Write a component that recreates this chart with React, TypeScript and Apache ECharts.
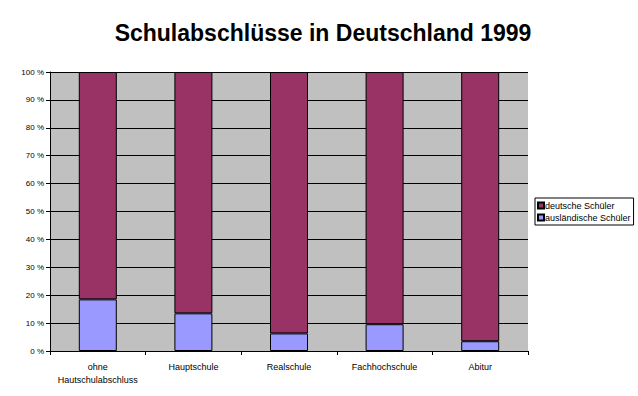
import React, { useEffect, useRef } from "react";
import * as echarts from "echarts";

const categories = ["ohne\nHautschulabschluss", "Hauptschule", "Realschule", "Fachhochschule", "Abitur"];
const auslaendisch = [18.5, 13.5, 6.3, 9.6, 3.5];
const deutsch = [81.5, 86.5, 93.7, 90.4, 96.5];
const seriesNames = ["deutsche Schüler", "ausländische Schüler"];

export default function App() {
  const ref = useRef<HTMLDivElement>(null);
  useEffect(() => {
    document.body.style.margin = "0";
    const chart = echarts.init(ref.current!, null, { renderer: "svg" });
    const font = "Liberation Sans, Arial, sans-serif";
    chart.setOption({
      animation: false,
      backgroundColor: "#ffffff",
      title: {
        text: "Schulabschlüsse in Deutschland 1999",
        left: 318,
        textAlign: "center",
        top: 16,
        textStyle: { fontFamily: font, fontSize: 23, fontWeight: "bold", color: "#000" },
      },
      legend: {
        orient: "vertical",
        left: 535,
        top: 198,
        data: seriesNames,
        itemWidth: 6,
        itemHeight: 6,
        itemGap: 3,
        padding: [3, 3, 3, 2],
        borderColor: "#000",
        borderWidth: 1,
        icon: "rect",
        textStyle: { fontFamily: font, fontSize: 9, color: "#000", padding: [0, 0, 0, -4] },
      },
      grid: {
        left: 50,
        top: 72,
        width: 478,
        height: 279,
        show: true,
        backgroundColor: "#C0C0C0",
        borderWidth: 0,
      },
      xAxis: {
        type: "category",
        data: categories,
        axisLine: { lineStyle: { color: "#000", width: 1 } },
        axisTick: { show: true, length: 4, lineStyle: { color: "#000" } },
        axisLabel: { interval: 0, hideOverlap: false, fontFamily: font, fontSize: 9, color: "#000", margin: 9, lineHeight: 13 },
      },
      yAxis: {
        type: "value",
        min: 0,
        max: 100,
        interval: 10,
        axisLine: { show: true, lineStyle: { color: "#000", width: 1 } },
        axisTick: { show: true, length: 4, lineStyle: { color: "#000" } },
        splitLine: { show: true, lineStyle: { color: "#000", width: 1 } },
        axisLabel: { fontFamily: font, fontSize: 8, color: "#000", margin: 6, formatter: "{value} %" },
      },
      series: [
        {
          name: seriesNames[1],
          type: "bar",
          stack: "a",
          data: auslaendisch,
          barWidth: 38,
          itemStyle: { color: "#9999FF", borderColor: "#000", borderWidth: 1 },
        },
        {
          name: seriesNames[0],
          type: "bar",
          stack: "a",
          data: deutsch,
          barWidth: 38,
          itemStyle: { color: "#993366", borderColor: "#000", borderWidth: 1 },
        },
      ],
    });
    return () => chart.dispose();
  }, []);
  return <div ref={ref} style={{ width: 638, height: 396 }} />;
}
